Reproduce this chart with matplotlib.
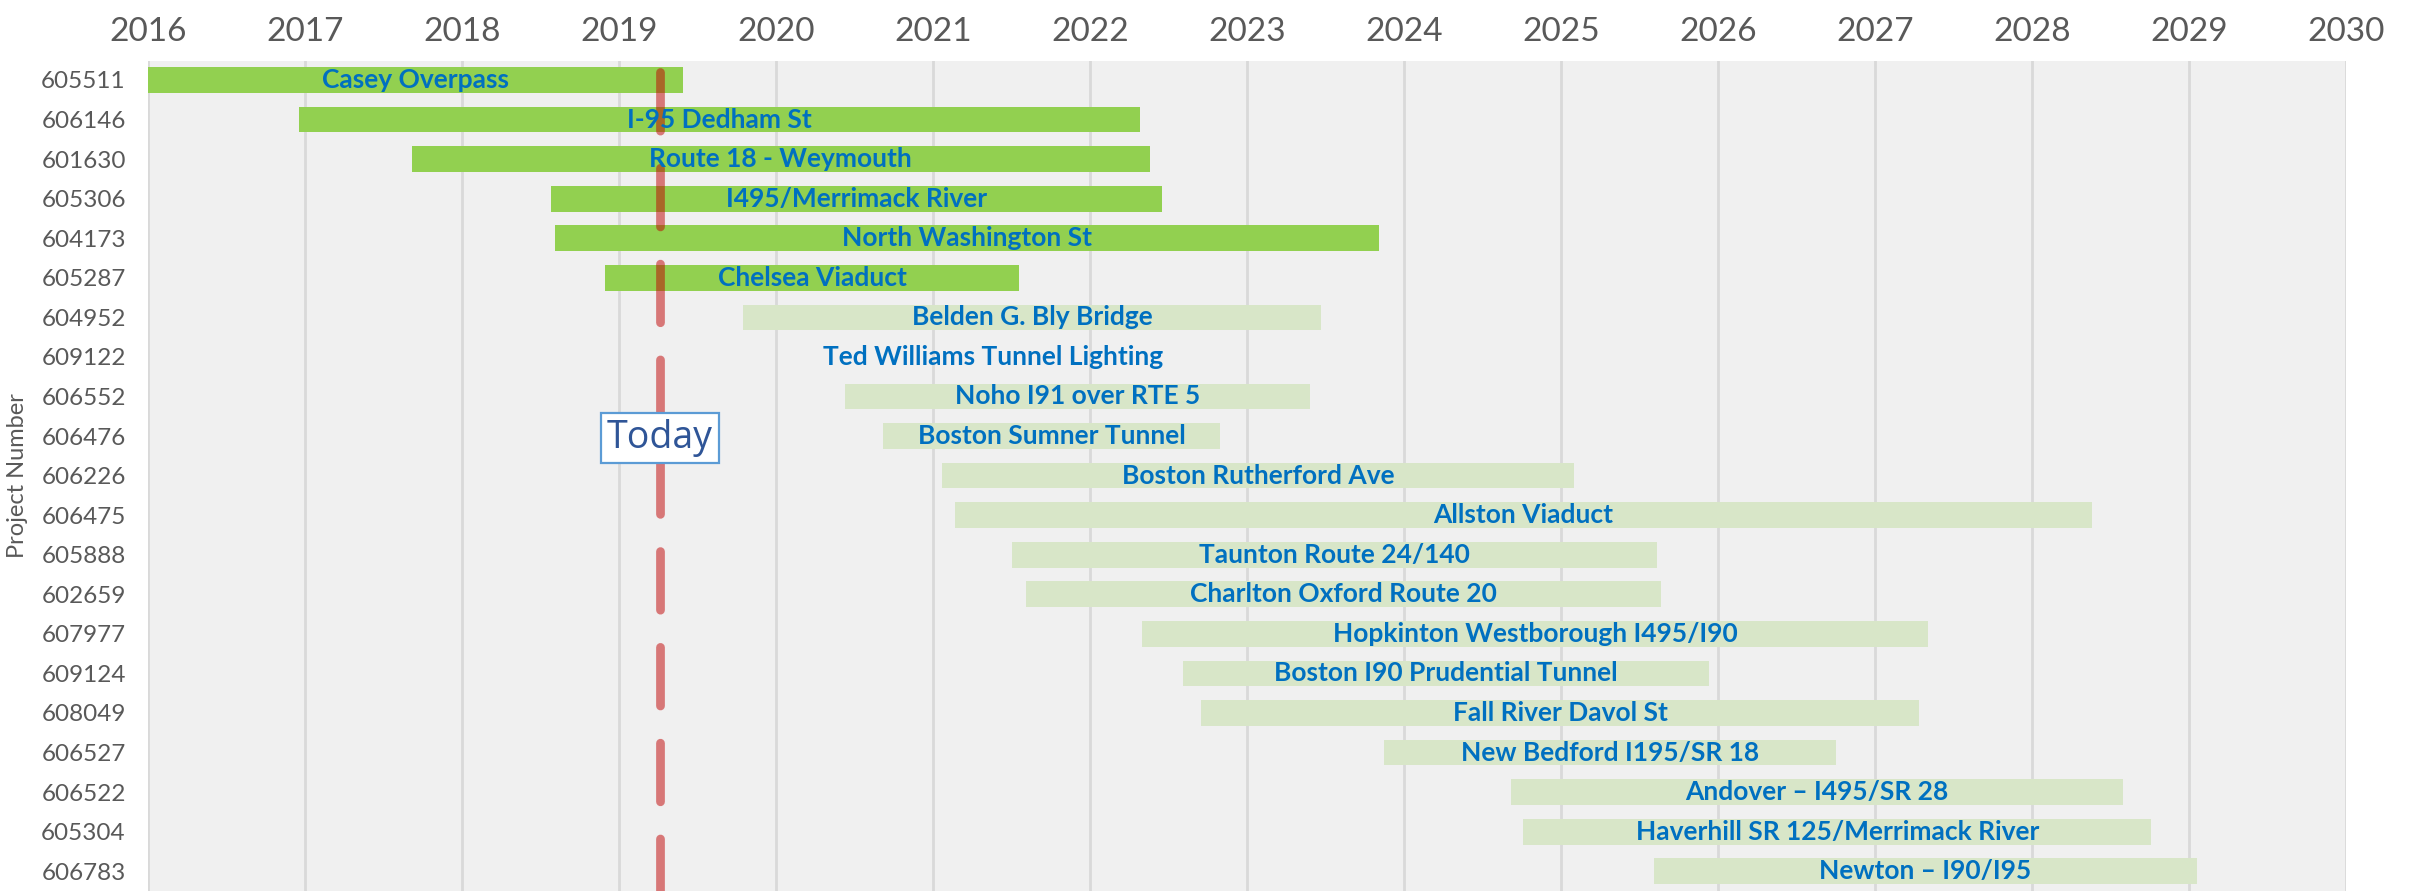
import numpy as np
import matplotlib.pyplot as plt

# project schedule (years as decimals)
projects = ['605511', '606146', '601630', '605306', '604173', '605287', '604952',
            '609122', '606552', '606476', '606226', '606475', '605888', '602659',
            '607977', '609124', '608049', '606527', '606522', '605304', '606783']
names = ['Casey Overpass', 'I-95 Dedham St', 'Route 18 - Weymouth', 'I495/Merrimack River',
         'North Washington St', 'Chelsea Viaduct', 'Belden G. Bly Bridge',
         'Ted Williams Tunnel Lighting', 'Noho I91 over RTE 5', 'Boston Sumner Tunnel',
         'Boston Rutherford Ave', 'Allston Viaduct', 'Taunton Route 24/140',
         'Charlton Oxford Route 20', 'Hopkinton Westborough I495/I90',
         'Boston I90 Prudential Tunnel', 'Fall River Davol St', 'New Bedford I195/SR 18',
         'Andover \u2013 I495/SR 28', 'Haverhill SR 125/Merrimack River', 'Newton \u2013 I90/I95']
start = [2016.0, 2016.96, 2017.68, 2018.57, 2018.59, 2018.91, 2019.79,
         2021.38, 2020.44, 2020.68, 2021.06, 2021.14, 2021.50, 2021.59,
         2022.33, 2022.59, 2022.71, 2023.87, 2024.68, 2024.76, 2025.59]
end = [2019.41, 2022.32, 2022.38, 2022.46, 2023.84, 2021.55, 2023.47,
       2021.38, 2023.40, 2022.83, 2025.08, 2028.38, 2025.61, 2025.64,
       2027.34, 2025.94, 2027.28, 2026.75, 2028.58, 2028.76, 2029.05]
active = [True] * 6 + [False] * 15
today = 2019.26
years = list(range(2016, 2031))

start = np.array(start)
end = np.array(end)
rows = np.arange(len(projects))

narrow = ['Lato', 'DejaVu Sans']

fig = plt.figure(figsize=(24.14, 8.91), dpi=100)
ax = fig.add_axes([148 / 2414, 0, (2346 - 148) / 2414, (891 - 61) / 891])
ax.set_facecolor('#f0f0f0')

colors = ['#92d050' if a else '#d8e6c8' for a in active]
ax.barh(rows, end - start, left=start, height=0.65, color=colors, zorder=2)

for r in rows:
    ax.text((start[r] + end[r]) / 2, r, names[r], ha='center', va='center',
            color='#0070c0', fontsize=19, fontweight='bold', family=narrow, zorder=4)

# today marker
ax.plot([today, today], [-0.2, 20.6], color='#c00000', alpha=0.5, lw=6.3,
        dashes=(6.7, 4.25), dash_capstyle='round', solid_capstyle='round', zorder=3)
ax.text(today, 9.05, 'Today', ha='center', va='center', fontsize=27, color='#2f5597',
        family=['Open Sans', 'DejaVu Sans'], zorder=5,
        bbox=dict(boxstyle='square,pad=0.16', fc='white', ec='#5b9bd5', lw=1.6))

ax.set_xlim(2016, 2030)
ax.set_ylim(20.5, -0.48)
ax.set_xticks(years)
ax.set_xticklabels([str(y) for y in years], family=narrow, fontsize=24, color='#595959')
ax.xaxis.tick_top()
ax.tick_params(axis='x', length=0, pad=10)
ax.set_yticks(rows)
ax.set_yticklabels(projects, family=narrow, fontsize=17.5, color='#595959')
ax.tick_params(axis='y', length=0, pad=16)
ax.grid(axis='x', color='#d9d9d9', lw=2, zorder=1)
ax.set_axisbelow(True)
for s in ax.spines.values():
    s.set_visible(False)

fig.text(18 / 2414, (891 - 476) / 891, 'Project Number', rotation=90,
         ha='center', va='center', fontsize=17, color='#595959', family=narrow)

fig.savefig('out.png', dpi=100)
